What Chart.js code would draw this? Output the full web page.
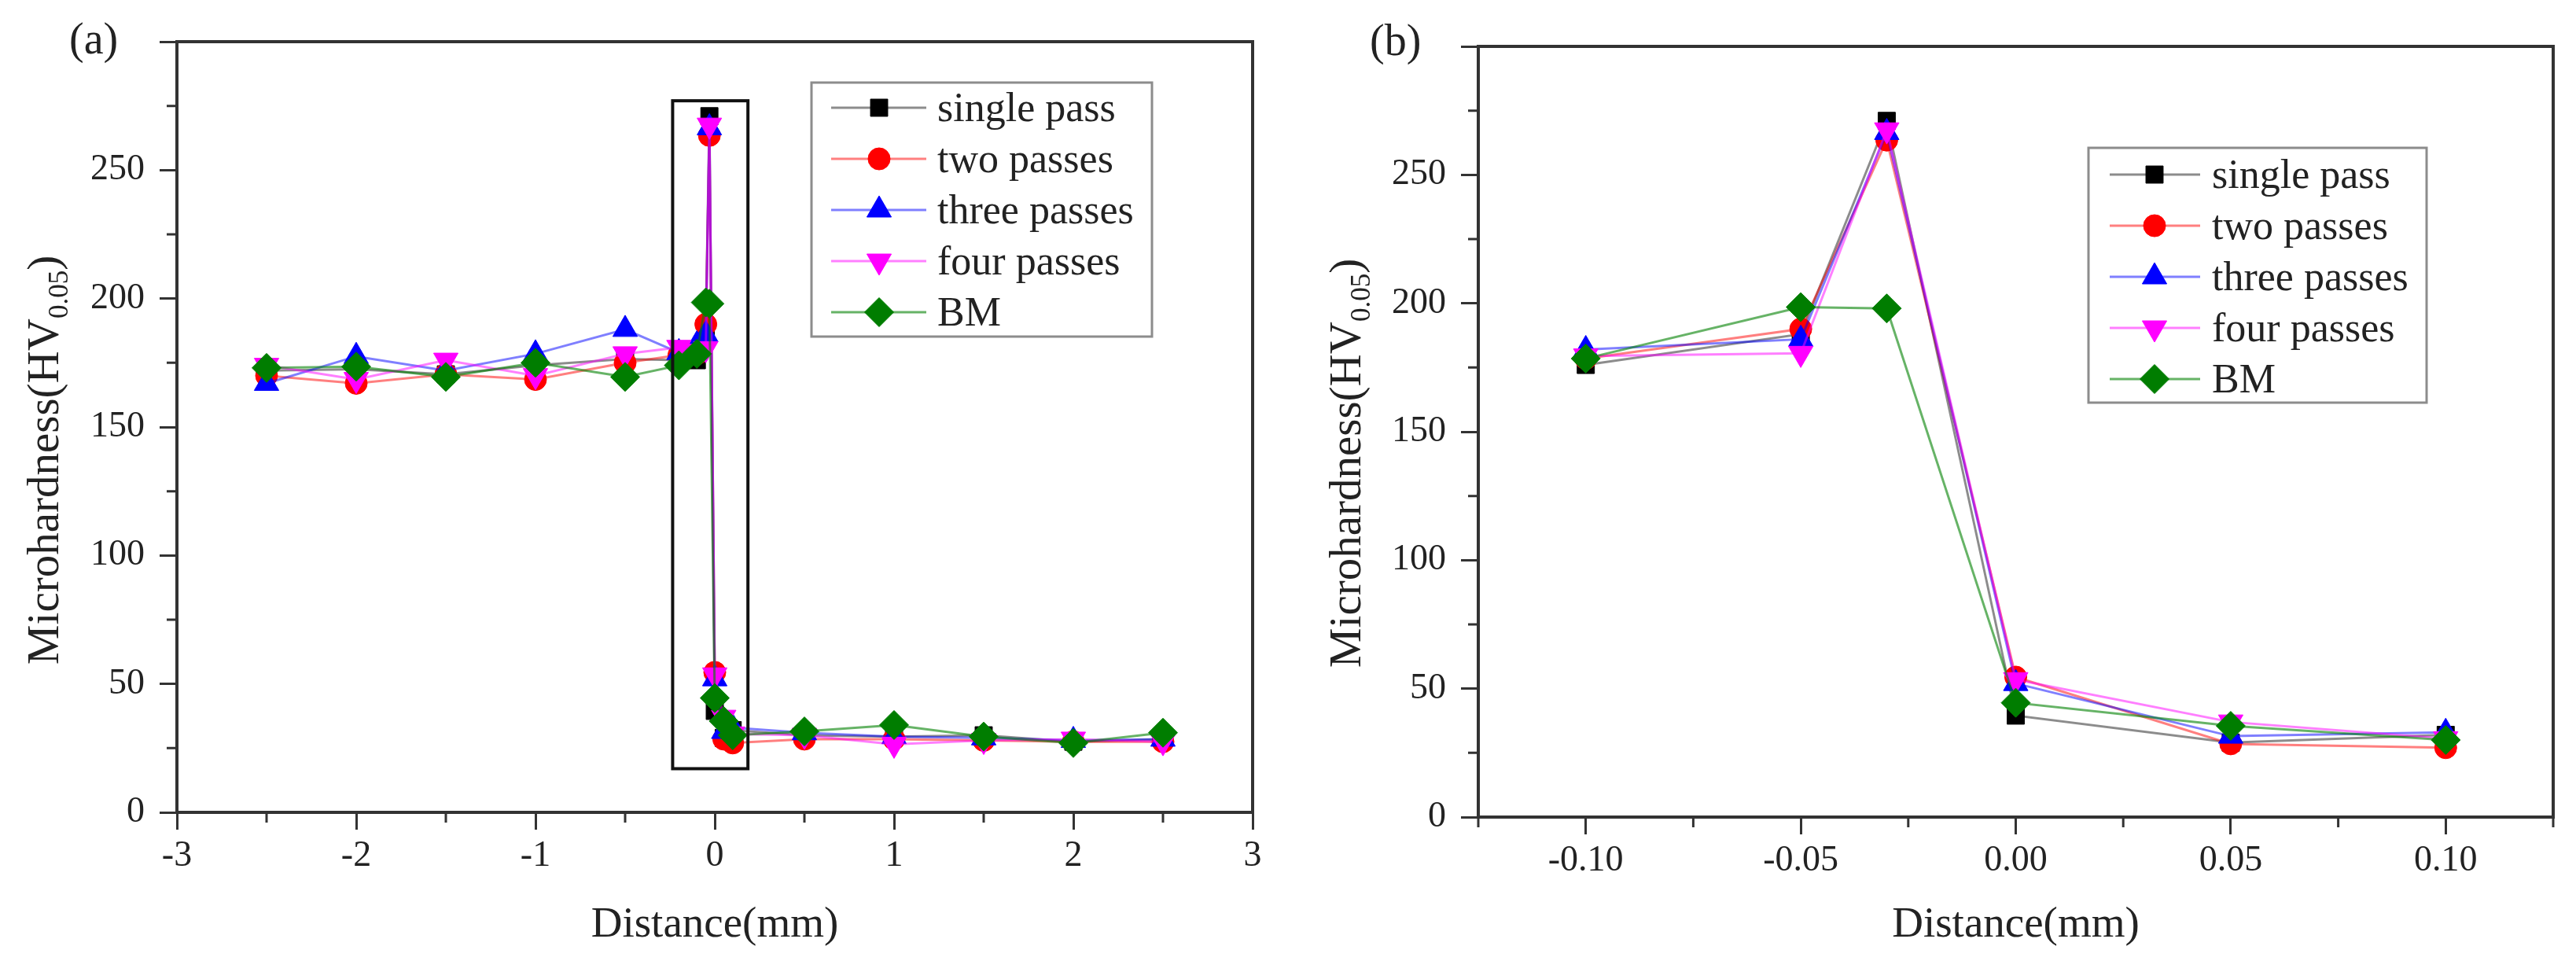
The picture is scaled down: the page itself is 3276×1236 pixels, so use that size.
<!DOCTYPE html>
<html>
<head>
<meta charset="utf-8">
<script src="https://cdn.jsdelivr.net/npm/chart.js@4.4.1/dist/chart.umd.min.js"></script>
<style>
  html, body { margin: 0; padding: 0; background: #fff; }
  #wrap { width: 3276px; height: 1236px; display: flex; }
  canvas { display: block; }
</style>
</head>
<body>
<div id="wrap">
  <canvas id="chartA" width="1638" height="1236"></canvas>
  <canvas id="chartB" width="1638" height="1236"></canvas>
</div>
<script>
// series names, shared by both panels
const seriesNames = ['single pass', 'two passes', 'three passes', 'four passes', 'BM'];

// (a) whole hardness profile across the joint
const distA = [-2.5, -2, -1.5, -1, -0.5, -0.2, -0.1, -0.05, -0.03, 0, 0.05, 0.1, 0.5, 1, 1.5, 2, 2.5];
const singleA = [172, 172.5, 170.5, 174, 176.5, 176, 176, 188, 271, 39.5, 29, 32, 30, 29.5, 30, 27.5, 28.5];
const twoA = [170, 167, 170.5, 168.5, 175, 178, 178.5, 190, 263.5, 54.5, 28.5, 27, 28.5, 28.5, 28, 27.5, 27.5];
const threeA = [167, 177.5, 172, 178.5, 188, 179, 182, 186, 266.5, 52, 31.5, 33, 31, 29.5, 29, 28, 28.5];
const fourA = [174, 168.5, 176, 170, 178.5, 181, 179.5, 180.5, 267.5, 53.5, 37, 30.5, 30, 26.5, 28, 28.5, 27.5];
const bmA = [173, 173.5, 169.5, 175, 169.5, 174, 178.5, 198.5, 198, 44.5, 35.5, 30, 31.5, 34, 29.5, 27, 31];

// (b) close-up of the boxed region
const distB = [-0.10, -0.05, -0.03, 0, 0.05, 0.10];
const singleB = [176, 188, 271, 39.5, 29, 32];
const twoB = [178.5, 190, 263.5, 54.5, 28.5, 27];
const threeB = [182, 186, 266.5, 52, 31.5, 33];
const fourB = [179.5, 180.5, 267.5, 53.5, 37, 30.5];
const bmB = [178.5, 198.5, 198, 44.5, 35.5, 30];

// labelled ticks
const xTicksA = [-3, -2, -1, 0, 1, 2, 3];
const xTicksB = [-0.10, -0.05, 0.00, 0.05, 0.10];
const yTicks = [0, 50, 100, 150, 200, 250, 300];

const serif = '"Liberation Serif", "Times New Roman", serif';

// marker look for each series (order matches seriesNames)
const looks = [
  { mark: '#000000', line: 'rgba(0,0,0,0.45)', style: 'rect', radius: 15.5, rot: 0, order: 5 },
  { mark: '#ff0000', line: 'rgba(255,0,0,0.5)', style: 'circle', radius: 14, rot: 0, order: 4 },
  { mark: '#0000ff', line: 'rgba(0,0,255,0.5)', style: 'triangle', radius: 18, rot: 0, order: 3 },
  { mark: '#ff00ff', line: 'rgba(255,0,255,0.5)', style: 'triangle', radius: 18, rot: 180, order: 2 },
  { mark: '#007d00', line: 'rgba(0,128,0,0.6)', style: 'rectRot', radius: 18.5, rot: 0, order: 1 }
];

function buildDatasets(xs, allSeries) {
  return allSeries.map((vals, i) => ({
    label: seriesNames[i],
    data: xs.map((x, j) => ({ x: x, y: vals[j] })),
    borderColor: looks[i].line,
    borderWidth: 3,
    pointBackgroundColor: looks[i].mark,
    pointBorderColor: looks[i].mark,
    pointBorderWidth: 1,
    pointStyle: looks[i].style,
    pointRadius: looks[i].radius,
    pointRotation: looks[i].rot,
    order: looks[i].order,
    tension: 0
  }));
}

function isMajor(v, step) {
  const r = v / step;
  return Math.abs(r - Math.round(r)) < 1e-6;
}

// frame, minor ticks, y title with subscript, panel letter, legend box, boxed region
const decor = {
  id: 'decor',
  afterDraw(chart, args, opts) {
    const ctx = chart.ctx;
    const a = chart.chartArea;
    const xs = chart.scales.x, ys = chart.scales.y;
    ctx.save();

    // boxed region (panel a only)
    if (opts.region) {
      const r = opts.region;
      const x0 = xs.getPixelForValue(r.x0), x1 = xs.getPixelForValue(r.x1);
      const y0 = ys.getPixelForValue(r.y0), y1 = ys.getPixelForValue(r.y1);
      ctx.strokeStyle = '#111';
      ctx.lineWidth = 4;
      ctx.strokeRect(x0, y1, x1 - x0, y0 - y1);
    }

    // top and right sides of the frame
    ctx.strokeStyle = '#333';
    ctx.lineWidth = 4;
    ctx.beginPath();
    ctx.moveTo(a.left - 2, a.top);
    ctx.lineTo(a.right, a.top);
    ctx.lineTo(a.right, a.bottom + 2);
    ctx.stroke();

    // minor ticks
    ctx.lineWidth = 3;
    ctx.beginPath();
    let n = Math.round((xs.max - xs.min) / opts.xMinor);
    for (let i = 0; i <= n; i++) {
      const v = xs.min + i * opts.xMinor;
      if (isMajor(v, opts.xMajor)) continue;
      const px = xs.getPixelForValue(v);
      ctx.moveTo(px, a.bottom);
      ctx.lineTo(px, a.bottom + 13);
    }
    n = Math.round((ys.max - ys.min) / 25);
    for (let i = 0; i <= n; i++) {
      const v = ys.min + i * 25;
      if (isMajor(v, 50)) continue;
      const py = ys.getPixelForValue(v);
      ctx.moveTo(a.left, py);
      ctx.lineTo(a.left - 13, py);
    }
    ctx.stroke();

    // y axis title with subscript
    const t = opts.yTitle;
    ctx.translate(t.x, t.y);
    ctx.rotate(-Math.PI / 2);
    ctx.fillStyle = '#222';
    ctx.textBaseline = 'alphabetic';
    const big = '57px ' + serif, small = '35px ' + serif;
    ctx.font = big;
    const w1 = ctx.measureText('Microhardness(HV').width;
    const w3 = ctx.measureText(')').width;
    ctx.font = small;
    const w2 = ctx.measureText('0.05').width;
    const x0 = -(w1 + w2 + w3) / 2;
    ctx.font = big;
    ctx.fillText('Microhardness(HV', x0, 19);
    ctx.fillText(')', x0 + w1 + w2, 19);
    ctx.font = small;
    ctx.fillText('0.05', x0 + w1, 31);
    ctx.setTransform(1, 0, 0, 1, 0, 0);

    // panel letter
    ctx.font = '56px ' + serif;
    ctx.fillText(opts.letter.text, opts.letter.x, opts.letter.y);

    // legend
    const lg = opts.legend;
    ctx.fillStyle = '#fff';
    ctx.fillRect(lg.x, lg.y, lg.w, lg.h);
    ctx.strokeStyle = '#8c8c8c';
    ctx.lineWidth = 3;
    ctx.strokeRect(lg.x, lg.y, lg.w, lg.h);
    chart.data.datasets.forEach((ds, i) => {
      const y = lg.row0 + i * lg.gap;
      ctx.strokeStyle = ds.borderColor;
      ctx.lineWidth = ds.borderWidth;
      ctx.beginPath();
      ctx.moveTo(lg.line0, y);
      ctx.lineTo(lg.line1, y);
      ctx.stroke();
      ctx.fillStyle = ds.pointBackgroundColor;
      ctx.strokeStyle = ds.pointBorderColor;
      ctx.lineWidth = 1;
      Chart.helpers.drawPoint(ctx, {
        pointStyle: ds.pointStyle,
        radius: ds.pointRadius,
        rotation: ds.pointRotation,
        borderWidth: 1
      }, lg.mark, y);
      ctx.fillStyle = '#222';
      ctx.font = '52px ' + serif;
      ctx.textBaseline = 'middle';
      ctx.fillText(ds.label, lg.text, y + 3);
      ctx.textBaseline = 'alphabetic';
    });
    ctx.restore();
  }
};

function makeChart(canvasId, xs, allSeries, cfg) {
  return new Chart(document.getElementById(canvasId), {
    type: 'line',
    data: { datasets: buildDatasets(xs, allSeries) },
    plugins: [decor],
    options: {
      responsive: false,
      animation: false,
      devicePixelRatio: 1,
      layout: { padding: cfg.padding },
      plugins: {
        legend: { display: false },
        tooltip: { enabled: false },
        decor: cfg.decor
      },
      scales: {
        x: {
          type: 'linear',
          min: cfg.xMin,
          max: cfg.xMax,
          afterBuildTicks: s => { s.ticks = cfg.xTicks.map(v => ({ value: v })); },
          afterFit: s => { s.height = cfg.xAxisHeight; },
          ticks: {
            autoSkip: false,
            maxRotation: 0,
            padding: 6,
            color: '#222',
            font: { family: serif, size: 46 },
            callback: v => cfg.xFormat(v)
          },
          grid: {
            drawOnChartArea: false,
            drawTicks: true,
            tickLength: 22,
            tickWidth: 3,
            tickColor: '#333'
          },
          border: { display: true, color: '#333', width: 4 },
          title: {
            display: true,
            text: 'Distance(mm)',
            color: '#222',
            font: { family: serif, size: 55 },
            padding: { top: 0, bottom: 26 }
          }
        },
        y: {
          type: 'linear',
          min: 0,
          max: 300,
          afterBuildTicks: s => { s.ticks = yTicks.map(v => ({ value: v })); },
          afterFit: s => { s.width = cfg.yAxisWidth; },
          ticks: {
            autoSkip: false,
            padding: 19,
            color: '#222',
            font: { family: serif, size: 46 },
            callback: v => (v === 300 ? '' : String(v))
          },
          grid: {
            drawOnChartArea: false,
            drawTicks: true,
            tickLength: 22,
            tickWidth: 3,
            tickColor: '#333'
          },
          border: { display: true, color: '#333', width: 4 },
          title: { display: false }
        }
      }
    }
  });
}

makeChart('chartA', distA, [singleA, twoA, threeA, fourA, bmA], {
  padding: { top: 53, right: 45, bottom: 0, left: 0 },
  xMin: -3, xMax: 3,
  xTicks: xTicksA,
  xFormat: v => String(v),
  xAxisHeight: 203,
  yAxisWidth: 225,
  decor: {
    xMinor: 0.5, xMajor: 1,
    region: { x0: -0.235, x1: 0.185, y0: 17, y1: 277 },
    yTitle: { x: 55, y: 585 },
    letter: { text: '(a)', x: 88, y: 68 },
    legend: { x: 1032, y: 105, w: 433, h: 323, row0: 137, gap: 65, line0: 1057, line1: 1178, mark: 1118, text: 1192 }
  }
});

makeChart('chartB', distB, [singleB, twoB, threeB, fourB, bmB], {
  padding: { top: 59, right: 29, bottom: 0, left: 0 },
  xMin: -0.125, xMax: 0.125,
  xTicks: xTicksB,
  xFormat: v => v.toFixed(2),
  xAxisHeight: 197,
  yAxisWidth: 242,
  decor: {
    xMinor: 0.025, xMajor: 0.05,
    yTitle: { x: 73, y: 589 },
    letter: { text: '(b)', x: 104, y: 70 },
    legend: { x: 1018, y: 188, w: 430, h: 324, row0: 222, gap: 65, line0: 1045, line1: 1160, mark: 1102, text: 1175 }
  }
});
</script>
</body>
</html>
